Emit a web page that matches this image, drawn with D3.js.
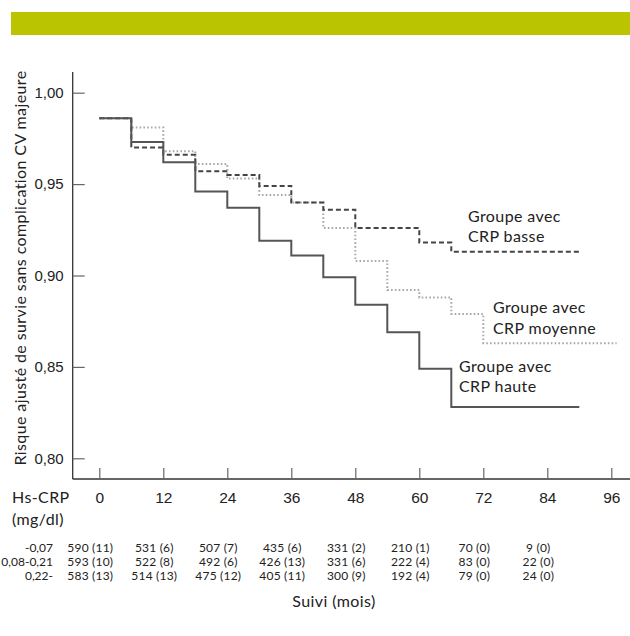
<!DOCTYPE html>
<html>
<head>
<meta charset="utf-8">
<script src="https://cdn.jsdelivr.net/npm/d3@7"></script>
<style>
  html, body { margin: 0; padding: 0; background: #fff; }
  svg { display: block; font-family: Lato, "Open Sans", sans-serif; }
</style>
</head>
<body>
<svg id="chart" width="630" height="636"></svg>
<script>
// ---- data ----
const stepMonths = [0, 6, 12, 18, 24, 30, 36, 42, 48, 54, 60, 66, 72];
const crpHaute   = [0.986, 0.973, 0.962, 0.946, 0.937, 0.919, 0.911, 0.899, 0.884, 0.869, 0.849, 0.828];
const crpBasse   = [0.986, 0.970, 0.966, 0.957, 0.955, 0.949, 0.940, 0.936, 0.926, 0.926, 0.918, 0.913];
const crpMoyenne = [0.986, 0.981, 0.968, 0.961, 0.953, 0.944, 0.940, 0.926, 0.908, 0.892, 0.888, 0.879, 0.863];
const endHaute = 90, endBasse = 90, endMoyenne = 97;

const yTicks = [0.80, 0.85, 0.90, 0.95, 1.00];
const xTicks = [0, 12, 24, 36, 48, 60, 72, 84, 96];
const tableMonths = [0, 12, 24, 36, 48, 60, 72, 84];
const rowLabels = ["-0,07", "0,08-0,21", "0,22-"];
const rowLow  = ["590 (11)", "531 (6)", "507 (7)", "435 (6)", "331 (2)", "210 (1)", "70 (0)", "9 (0)"];
const rowMid  = ["593 (10)", "522 (8)", "492 (6)", "426 (13)", "331 (6)", "222 (4)", "83 (0)", "22 (0)"];
const rowHigh = ["583 (13)", "514 (13)", "475 (12)", "405 (11)", "300 (9)", "192 (4)", "79 (0)", "24 (0)"];
const tableRows = [rowLow, rowMid, rowHigh];

const svg = d3.select("#chart");
const fmt = v => v.toFixed(2).replace(".", ",");

// header bar
svg.append("rect").attr("x", 11).attr("y", 12).attr("width", 619).attr("height", 23).attr("fill", "#bbc400");

const x = d3.scaleLinear().domain([0, 96]).range([99.3, 611.3]);
const y = d3.scaleLinear().domain([0.80, 1.00]).range([458.3, 92.7]);
const axisX0 = 72.7, axisY0 = 479;

// axis lines
svg.append("line").attr("x1", axisX0).attr("x2", axisX0).attr("y1", 72).attr("y2", axisY0)
  .attr("stroke", "#333").attr("stroke-width", 1.3);
svg.append("line").attr("x1", axisX0).attr("x2", 630).attr("y1", axisY0).attr("y2", axisY0)
  .attr("stroke", "#333").attr("stroke-width", 1.3);

// y axis
const gy = svg.append("g").attr("transform", `translate(${axisX0},0)`)
  .call(d3.axisLeft(y).tickValues(yTicks).tickFormat(fmt).tickSize(-12).tickPadding(9));
gy.select(".domain").remove();
gy.selectAll(".tick line").attr("stroke", "#666").attr("stroke-width", 1.2);
gy.selectAll(".tick text").attr("fill", "#222").style("font-size", "15px").attr("x", -9);

// x axis
const gx = svg.append("g").attr("transform", `translate(0,${axisY0})`)
  .call(d3.axisBottom(x).tickValues(xTicks).tickSize(-11));
gx.select(".domain").remove();
gx.selectAll(".tick line").attr("stroke", "#666").attr("stroke-width", 1.2);
gx.selectAll(".tick text").attr("fill", "#222").style("font-size", "15.5px").attr("y", 24).attr("dy", 0);

// curves
function stepData(vals, end) {
  const pts = vals.map((v, i) => [stepMonths[i], v]);
  pts.push([end, vals[vals.length - 1]]);
  return pts;
}
const line = d3.line().x(d => x(d[0])).y(d => y(d[1])).curve(d3.curveStepAfter);

svg.append("path").datum(stepData(crpMoyenne, endMoyenne)).attr("d", line)
  .attr("fill", "none").attr("stroke", "#a8a8a8").attr("stroke-width", 2).attr("stroke-dasharray", "1.6,2.2");
svg.append("path").datum(stepData(crpBasse, endBasse)).attr("d", line)
  .attr("fill", "none").attr("stroke", "#444").attr("stroke-width", 2).attr("stroke-dasharray", "5,3");
svg.append("path").datum(stepData(crpHaute, endHaute)).attr("d", line)
  .attr("fill", "none").attr("stroke", "#555").attr("stroke-width", 2);

// group labels
const labels = [
  { lines: ["Groupe avec", "CRP basse"], x: 468, y: 221.7 },
  { lines: ["Groupe avec", "CRP moyenne"], x: 493, y: 313 },
  { lines: ["Groupe avec", "CRP haute"], x: 459, y: 371.7 }
];
labels.forEach(l => {
  l.lines.forEach((t, i) => {
    svg.append("text").attr("x", l.x).attr("y", l.y + i * 20.5).text(t)
      .attr("fill", "#222").style("font-size", "16px").style("letter-spacing", "0.4px");
  });
});

// y title
svg.append("text").attr("transform", "translate(26,268) rotate(-90)").attr("text-anchor", "middle")
  .attr("fill", "#222").style("font-size", "16px").style("letter-spacing", "0.4px")
  .text("Risque ajusté de survie sans complication CV majeure");

// table header
svg.append("text").attr("x", 12).attr("y", 503).attr("fill", "#222").style("font-size", "16px").style("letter-spacing", "0.4px").text("Hs-CRP");
svg.append("text").attr("x", 12).attr("y", 525).attr("fill", "#222").style("font-size", "16px").style("letter-spacing", "0.4px").text("(mg/dl)");

const rowY = [551.7, 566, 580];
rowLabels.forEach((r, i) => {
  svg.append("text").attr("x", 53).attr("y", rowY[i]).attr("text-anchor", "end")
    .attr("fill", "#222").style("font-size", "12px").text(r);
  tableRows[i].forEach((c, j) => {
    svg.append("text").attr("x", x(tableMonths[j]) - 9).attr("y", rowY[i]).attr("text-anchor", "middle")
      .attr("fill", "#222").style("font-size", "12px").style("letter-spacing", "0.2px").text(c);
  });
});

svg.append("text").attr("x", 334).attr("y", 607).attr("text-anchor", "middle")
  .attr("fill", "#222").style("font-size", "16px").style("letter-spacing", "0.4px").text("Suivi (mois)");
</script>
</body>
</html>
